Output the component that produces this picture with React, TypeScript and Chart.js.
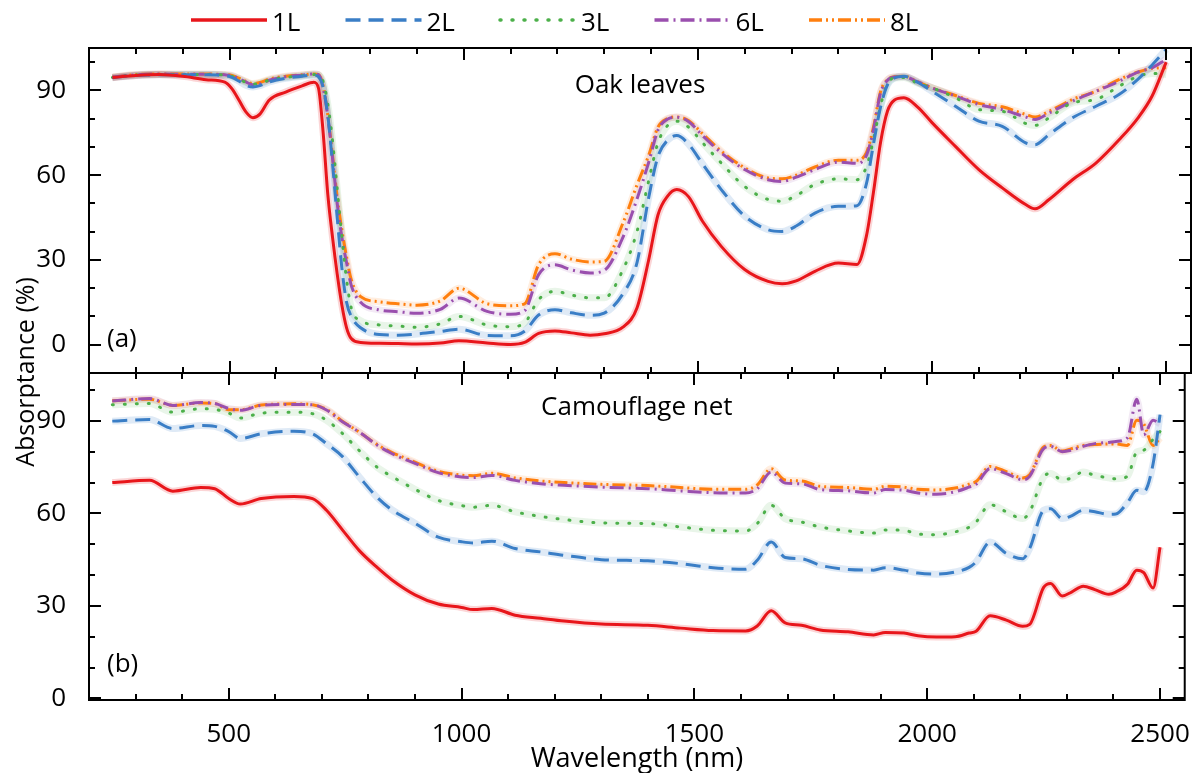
import React, { useEffect, useRef } from 'react';
import { Chart, registerables } from 'chart.js';

Chart.register(...registerables);

const FONT = "'Open Sans', sans-serif";

const SERIES = ['1L', '2L', '3L', '6L', '8L'];
const COLORS = ['#e8161b', '#3a7ec6', '#4cb04a', '#9a4fae', '#ff7f0e'];
const BAND_COLORS = [
  'rgba(232,22,27,0.18)',
  'rgba(58,126,198,0.16)',
  'rgba(76,176,74,0.12)',
  'rgba(154,79,174,0.12)',
  'rgba(255,127,14,0.13)',
];
const DASHES: number[][] = [[], [15, 8], [1, 11], [14, 5, 2, 5], [13, 4, 2, 4, 2, 4]];
const CAPS = ['butt', 'butt', 'round', 'butt', 'butt'];

const Y_TICKS = [0, 30, 60, 90];
const Y_MINOR_TICKS = [10, 20, 40, 50, 70, 80, 100];
const X_TICKS = [500, 1000, 1500, 2000, 2500];
const X_MINOR_TICKS = [300, 400, 600, 700, 800, 900, 1100, 1200, 1300, 1400, 1600, 1700, 1800, 1900, 2100, 2200, 2300, 2400];

// ---------- Panel (a): Oak leaves ----------
const WL_A = [250, 300, 350, 400, 450, 490, 505, 520, 535, 550, 565, 585, 620, 655, 680, 690, 700, 710, 720, 730, 740, 750, 760, 780, 820, 860, 900, 950, 990, 1050, 1100, 1130, 1160, 1195, 1230, 1270, 1300, 1340, 1370, 1395, 1415, 1435, 1455, 1480, 1510, 1550, 1600, 1650, 1680, 1710, 1750, 1800, 1840, 1860, 1875, 1890, 1905, 1920, 1940, 1970, 2000, 2050, 2100, 2150, 2200, 2220, 2250, 2300, 2350, 2400, 2440, 2470, 2500];

const OAK_1L = [94.6, 95.3, 95.6, 95.0, 93.8,
  92.9, 90.6, 86.6, 82.4, 80.3,
  81.6, 86.6, 89.4, 91.6, 92.9,
  90.8, 75, 53, 38, 25,
  14, 6, 2.2, 0.8, 0.5,
  0.4, 0.3, 0.6, 1.4, 0.6,
  0.1, 0.8, 4.0, 4.9, 4.2,
  3.4, 3.9, 6.2, 13, 30,
  46, 52.5, 54.9, 52.4, 43.7,
  34.8, 26.6, 22.4, 21.6, 22.6,
  26, 28.9, 28.4, 38.5, 54,
  71.5, 82.7, 86.6, 87.4, 84,
  78.6, 70.2, 62, 55.5, 49.6,
  48.1, 51.4, 58.4, 64.3, 72.6,
  80.3, 88, 100];

const OAK_2L = [94.5, 95.3, 95.5, 95.5, 95.5,
  95.2, 94.6, 93.3, 91.8, 91.2,
  91.7, 93.0, 94.3, 95.0, 95.4,
  94.8, 91, 81, 64, 45,
  27, 15, 10, 6, 3.6,
  3.4, 3.8, 4.7, 5.5, 3.3,
  3.2, 4.8, 10.5, 12.4, 11.3,
  10.4, 11.2, 18, 29, 52,
  66.7, 72.3, 74, 71, 64,
  54.9, 45.5, 40.7, 40.1, 42,
  46.6, 49, 49.2, 57, 71,
  84, 92, 94.4, 95, 92.8,
  89.7, 84.4, 79.1, 77.3, 71.4,
  70.8, 74.4, 80.3, 84.4, 88.6,
  94, 99, 104.5];

const OAK_3L = [94.6, 95.4, 95.6, 95.6, 95.6,
  95.4, 95.0, 94.0, 92.8, 92.2,
  92.6, 93.6, 94.6, 95.2, 95.6,
  95.4, 93, 85, 72, 55,
  38, 23, 13, 8.5, 7,
  6.6, 6.2, 7.4, 10, 7,
  6.4, 7.7, 16, 18.9, 17.6,
  16.6, 16.6, 26.5, 40, 58,
  71.5, 77.5, 79.1, 77, 71.5,
  64.3, 56, 51.4, 50.8, 52.8,
  56.7, 58.7, 58.4, 63, 72.5,
  84.5, 92.5, 94.4, 94.6, 92.5,
  90.9, 87.4, 83.2, 82.6, 78.3,
  77.6, 80.3, 85.6, 86.8, 91.5,
  95, 96, 95.6];

const OAK_6L = [94.7, 95.5, 95.8, 95.7, 95.7,
  95.5, 95.2, 94.2, 93.0, 92.0,
  92.3, 93.6, 94.8, 95.4, 95.8,
  95.6, 91, 80.5, 66, 50,
  38, 29, 21, 15, 12.3,
  11.7, 11.1, 12.5, 16.5, 11.8,
  10.8, 12, 24.8, 28.3, 26.5,
  25.4, 26.3, 38, 51.5, 64.5,
  76, 79.8, 80.5, 79, 74,
  67.9, 62, 58.4, 57.8, 59.3,
  62, 64.6, 64.2, 67, 76,
  89, 93.6, 94.7, 94.8, 93,
  90.9, 88, 85, 83.2, 80.6,
  79.7, 82, 86.2, 89.7, 93.3,
  96.5, 98, 101];

const OAK_8L = [94.7, 95.6, 95.8, 95.8, 95.8,
  95.6, 95.3, 94.3, 93.2, 92.4,
  92.8, 94.0, 95.0, 95.5, 95.8,
  95.6, 91.5, 81, 67, 52,
  40.5, 31, 23, 17, 15.2,
  14.5, 14, 15.5, 20, 14.5,
  13.8, 14.5, 28.3, 32.2, 30.3,
  29.3, 29.5, 43, 56.5, 67,
  77, 80, 80.6, 79.3, 74.7,
  68.5, 62.6, 59, 58.7, 60,
  62.9, 65.3, 65.3, 68, 77,
  89.5, 93.8, 94.8, 95, 93,
  90.9, 88.2, 85.4, 84.2, 81.5,
  80.6, 82.6, 86.8, 89.7, 93.9,
  96.5, 97.8, 98];

// ---------- Panel (b): Camouflage net ----------
const WL_B = [250, 330, 380, 440, 470, 500, 525, 570, 640, 680, 710, 745, 780, 820, 850, 900, 950, 1000, 1025, 1065, 1115, 1170, 1220, 1300, 1400, 1470, 1540, 1610, 1635, 1665, 1695, 1730, 1770, 1830, 1885, 1910, 1950, 1980, 2020, 2060, 2090, 2105, 2135, 2170, 2205, 2220, 2250, 2265, 2290, 2310, 2335, 2360, 2390, 2405, 2430, 2450, 2465, 2485, 2500];

const NET_1L = [70, 70.7, 67.2, 68.4, 68,
  64.8, 63, 64.8, 65.5, 64.8,
  61, 54.5, 48, 42.3, 38.5,
  33.6, 30.6, 29.5, 28.8, 29.2,
  27, 26, 25.1, 24.1, 23.7,
  22.8, 22, 21.9, 23.5, 28.4,
  24.5, 23.7, 22.2, 21.6, 20.6,
  21.4, 21.2, 20.3, 19.9, 20,
  21.2, 21.8, 26.8, 25.4, 23.4,
  24, 36, 37.3, 33.2, 34.5,
  36.4, 35.3, 33.8, 34.5, 37,
  41.6, 40.8, 35.8, 49];

const NET_2L = [89.9, 90.4, 87.5, 88.5, 88.2,
  86.5, 84.3, 85.8, 86.6, 85.8,
  82.6, 78.3, 71.9, 65, 61.2,
  56.8, 52.3, 50.8, 50.4, 51,
  48.6, 47.5, 46.4, 45, 44.6,
  43.7, 42.4, 41.9, 44.8, 50.7,
  45.7, 45.3, 43.2, 41.8, 41.6,
  42.4, 41.6, 40.7, 40.3, 41,
  42.5, 44.3, 50.7, 47, 45.3,
  48.6, 61, 61.5, 58.3, 59.2,
  61, 60.5, 59.7, 59.8, 63.5,
  67.5, 67, 76, 92];

const NET_3L = [95.2, 95.6, 92.8, 93.9, 93.7,
  92.5, 90.9, 92.5, 92.8, 92.3,
  90.2, 85.8, 80.4, 74.8, 72,
  67.8, 64.2, 62.5, 62, 62.6,
  60.5, 59, 58, 56.9, 56.7,
  55.6, 54.5, 54.3, 56.7, 62.6,
  58.3, 57.2, 55.6, 54.3, 53.6,
  54.6, 54.5, 53.3, 53.1, 54,
  55.5, 57.2, 62.8, 60.5, 58.3,
  60.5, 71.8, 72.9, 70.8, 71.5,
  73.4, 72.3, 71.5, 71.2, 72,
  79.9, 80.5, 84, 86.5];

const NET_6L = [96.4, 97.2, 95, 95.9, 95.6,
  94, 93.4, 95, 95.3, 95.2,
  93.5, 89.6, 86.4, 82, 79.4,
  76.2, 73.2, 71.8, 71.6, 72.3,
  70.7, 69.6, 69.1, 68.5, 68,
  67.3, 66.7, 66.6, 68, 73.4,
  69.8, 69.6, 67.7, 67.3, 66.6,
  67.7, 67.5, 66.6, 66.2, 67,
  68.5, 69.4, 74.5, 72.9, 70.9,
  72, 81, 81.7, 80, 80.5,
  81.7, 82.6, 83, 83.3, 84.5,
  97, 85.5, 90.2, 89];

const NET_8L = [96.5, 97, 95, 95.8, 95.6,
  93.6, 93.6, 95.1, 95.5, 95.2,
  93.7, 89.8, 86.4, 82.2, 79.8,
  76.6, 73.6, 72.4, 72.2, 73,
  71.5, 70.5, 70, 69.4, 69,
  68.4, 67.8, 67.8, 69.2, 74.5,
  70.8, 70.5, 68.8, 68.4, 67.8,
  68.8, 68.5, 67.8, 67.6, 68.2,
  69.5, 70.3, 75.2, 73.5, 71.5,
  72.5, 81.5, 82, 80.2, 81,
  82, 82.3, 82.5, 82.5, 82,
  90.2, 89, 82, 84.5];

const X_MIN = 200;
const X_MAX = 2553;

function buildDatasets(wl: number[], series: number[][]) {
  const ds: any[] = [];
  series.forEach((vals, i) => {
    ds.push({
      label: SERIES[i],
      data: wl.map((x, j) => ({ x, y: vals[j] })),
      borderColor: COLORS[i],
      borderWidth: 3,
      borderDash: DASHES[i],
      borderCapStyle: CAPS[i],
      pointRadius: 0,
      fill: false,
      cubicInterpolationMode: 'monotone',
      order: i + 1,
      clip: 2,
    });
    ds.push({
      label: SERIES[i] + ' band',
      data: wl.map((x, j) => ({ x, y: vals[j] })),
      borderColor: BAND_COLORS[i],
      borderWidth: 7,
      pointRadius: 0,
      fill: false,
      cubicInterpolationMode: 'monotone',
      order: 20 + i,
      clip: 2,
    });
  });
  return ds;
}

const framePlugin = {
  id: 'frameTicks',
  afterDatasetsDraw(chart: any) {
    const { ctx, chartArea } = chart;
    const { left, right, top, bottom } = chartArea;
    const xs = chart.scales.x;
    const ys = chart.scales.y;
    ctx.save();
    ctx.setLineDash([]);
    ctx.strokeStyle = '#000';
    ctx.lineWidth = 2;
    ctx.beginPath();
    const xAll = [...X_TICKS.map((v) => [v, 12]), ...X_MINOR_TICKS.map((v) => [v, 6])];
    xAll.forEach(([v, len]) => {
      const p = Math.round(xs.getPixelForValue(v));
      ctx.moveTo(p, top);
      ctx.lineTo(p, top + len);
      ctx.moveTo(p, bottom);
      ctx.lineTo(p, bottom - len);
    });
    const yAll = [...Y_TICKS.map((v) => [v, 12]), ...Y_MINOR_TICKS.map((v) => [v, 6])];
    yAll.forEach(([v, len]) => {
      if (v < ys.min || v > ys.max) return;
      const p = Math.round(ys.getPixelForValue(v));
      ctx.moveTo(left, p);
      ctx.lineTo(left + len, p);
      ctx.moveTo(right, p);
      ctx.lineTo(right - len, p);
    });
    ctx.stroke();
    ctx.strokeRect(left, top, right - left, bottom - top);
    ctx.restore();
  },
};

function textPlugin(id: string, title: string, titleY: number, tag: string, tagY: number, extra?: (ctx: CanvasRenderingContext2D, chart: any) => void) {
  return {
    id,
    afterDraw(chart: any) {
      const { ctx, chartArea } = chart;
      ctx.save();
      ctx.fillStyle = '#000';
      ctx.font = `26px ${FONT}`;
      ctx.textBaseline = 'alphabetic';
      ctx.textAlign = 'center';
      ctx.fillText(title, (chartArea.left + chartArea.right) / 2, titleY);
      ctx.textAlign = 'left';
      ctx.fillText(tag, 107, tagY);
      if (extra) extra(ctx, chart);
      ctx.restore();
    },
  };
}

function drawLegend(ctx: CanvasRenderingContext2D) {
  SERIES.forEach((name, i) => {
    const s = 191 + i * 154.5;
    ctx.save();
    ctx.strokeStyle = COLORS[i];
    ctx.lineWidth = 3.5;
    ctx.setLineDash(DASHES[i]);
    ctx.lineCap = CAPS[i] as CanvasLineCap;
    ctx.beginPath();
    ctx.moveTo(s, 20);
    ctx.lineTo(s + 76, 20);
    ctx.stroke();
    ctx.restore();
    ctx.fillStyle = '#000';
    ctx.font = `26px ${FONT}`;
    ctx.textAlign = 'left';
    ctx.textBaseline = 'alphabetic';
    ctx.fillText(name, s + 81, 31);
  });
}

function drawYTitle(ctx: CanvasRenderingContext2D) {
  ctx.save();
  ctx.translate(27, 372);
  ctx.rotate(-Math.PI / 2);
  ctx.font = `25px ${FONT}`;
  ctx.textAlign = 'center';
  ctx.textBaseline = 'middle';
  ctx.fillStyle = '#000';
  ctx.fillText('Absorptance (%)', 0, 0);
  ctx.restore();
}

const plainLabel = (v: any) => String(v);

function yScale(min: number, max: number) {
  return {
    type: 'linear',
    min,
    max,
    afterBuildTicks: (s: any) => {
      s.ticks = Y_TICKS.map((v) => ({ value: v }));
    },
    afterFit: (s: any) => {
      s.width = 89;
    },
    grid: { display: false },
    border: { display: false },
    ticks: { color: '#000', font: { family: FONT, size: 26 }, padding: 15, callback: plainLabel },
  };
}

export default function App() {
  const refA = useRef<HTMLCanvasElement>(null);
  const refB = useRef<HTMLCanvasElement>(null);

  useEffect(() => {
    const common = {
      responsive: false,
      animation: false,
      devicePixelRatio: 1,
      events: [],
    };
    const chartA = new Chart(refA.current as HTMLCanvasElement, {
      type: 'line',
      data: { datasets: buildDatasets(WL_A, [OAK_1L, OAK_2L, OAK_3L, OAK_6L, OAK_8L]) },
      options: {
        ...common,
        layout: { padding: { left: 0, top: 48, right: 10, bottom: 400 } },
        plugins: { legend: { display: false }, tooltip: { enabled: false } },
        scales: {
          x: { type: 'linear', min: X_MIN, max: X_MAX, display: false },
          y: yScale(-10, 105),
        },
      } as any,
      plugins: [framePlugin, textPlugin('textA', 'Oak leaves', 93, '(a)', 347, (ctx) => drawLegend(ctx))],
    });
    const chartB = new Chart(refB.current as HTMLCanvasElement, {
      type: 'line',
      data: { datasets: buildDatasets(WL_B, [NET_1L, NET_2L, NET_3L, NET_6L, NET_8L]) },
      options: {
        ...common,
        layout: { padding: { left: 0, top: 373, right: 10, bottom: 0 } },
        plugins: { legend: { display: false }, tooltip: { enabled: false } },
        scales: {
          x: {
            type: 'linear',
            min: X_MIN,
            max: X_MAX,
            afterBuildTicks: (s: any) => {
              s.ticks = X_TICKS.map((v) => ({ value: v }));
            },
            afterFit: (s: any) => {
              s.height = 73;
            },
            grid: { display: false },
            border: { display: false },
            ticks: { color: '#000', font: { family: FONT, size: 26 }, padding: 11, maxRotation: 0, callback: plainLabel },
            title: {
              display: true,
              text: 'Wavelength (nm)',
              color: '#000',
              font: { family: FONT, size: 27, lineHeight: 1 },
              padding: { top: 0, bottom: 0 },
            },
          },
          y: yScale(-0.5, 105.5),
        },
      } as any,
      plugins: [framePlugin, textPlugin('textB', 'Camouflage net', 415, '(b)', 672, (ctx) => drawYTitle(ctx))],
    });
    return () => {
      chartA.destroy();
      chartB.destroy();
    };
  }, []);

  const canvasStyle: React.CSSProperties = { position: 'absolute', left: 0, top: 0, width: 1201, height: 773 };
  return (
    <div style={{ position: 'absolute', left: 0, top: 0, width: 1201, height: 773, background: '#fff' }}>
      <canvas ref={refA} width={1201} height={773} style={canvasStyle} />
      <canvas ref={refB} width={1201} height={773} style={canvasStyle} />
    </div>
  );
}
